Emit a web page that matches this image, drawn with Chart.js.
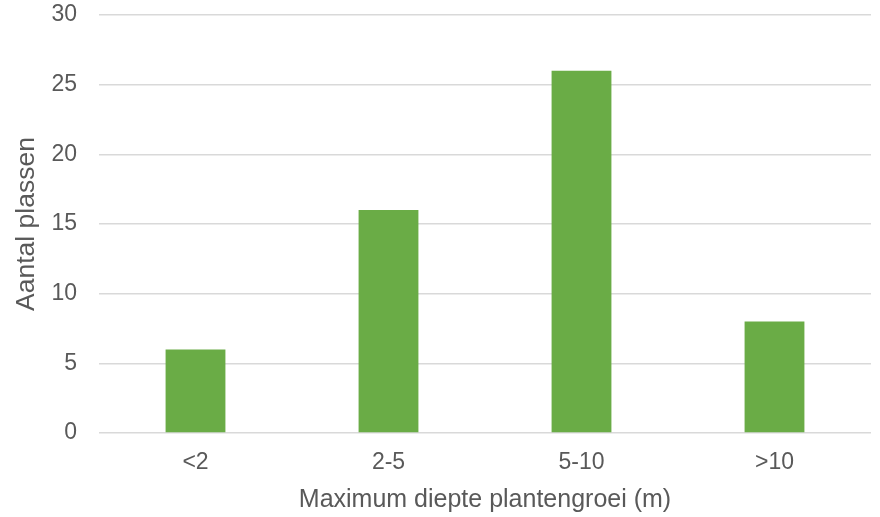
<!DOCTYPE html>
<html>
<head>
<meta charset="utf-8">
<script src="https://cdn.jsdelivr.net/npm/chart.js@4/dist/chart.umd.min.js"></script>
<style>
  html, body { margin: 0; padding: 0; background: #fff; }
  #wrap { width: 880px; height: 517px; }
</style>
</head>
<body>
<div id="wrap"><canvas id="chart" width="880" height="517"></canvas></div>
<script>
// Max depth of plant growth per lake, counted per depth class.
const categories = ['<2', '2-5', '5-10', '>10'];
const lakeCounts = [6, 16, 26, 8];
const yTicks = [0, 5, 10, 15, 20, 25, 30];

const textColor = '#595959';
const fontFamily = '"Liberation Sans", Arial, sans-serif';

new Chart(document.getElementById('chart'), {
    type: 'bar',
    data: {
        labels: categories,
        datasets: [{
            data: lakeCounts,
            backgroundColor: '#6aac46',
            borderWidth: 0,
            barPercentage: 0.62,
            categoryPercentage: 0.5
        }]
    },
    options: {
        responsive: false,
        animation: false,
        maintainAspectRatio: false,
        layout: { padding: { left: 0, right: 9, top: 0, bottom: 0 } },
        plugins: { legend: { display: false }, tooltip: { enabled: false } },
        scales: {
            x: {
                grid: { display: false, drawTicks: false },
                border: { display: false },
                ticks: { color: textColor, font: { family: fontFamily, size: 23 }, padding: 16 },
                title: {
                    display: true,
                    text: 'Maximum diepte plantengroei (m)',
                    color: textColor,
                    font: { family: fontFamily, size: 25 },
                    padding: { top: 4, bottom: 2 }
                },
                afterFit: (axis) => { axis.height = 84; }
            },
            y: {
                min: 0,
                max: 30,
                afterBuildTicks: (axis) => { axis.ticks = yTicks.map(v => ({ value: v })); },
                grid: { color: '#d9d9d9', lineWidth: 1.5, drawTicks: false },
                border: { display: false },
                ticks: { color: textColor, font: { family: fontFamily, size: 23 }, padding: 22 },
                title: {
                    display: true,
                    text: 'Aantal plassen',
                    color: textColor,
                    font: { family: fontFamily, size: 26.5 },
                    padding: { top: 11, bottom: 8 }
                },
                afterFit: (axis) => {
                    axis.width = 99;
                    axis.paddingTop = 15;
                    axis.paddingBottom = 0;
                }
            }
        }
    }
});
</script>
</body>
</html>
